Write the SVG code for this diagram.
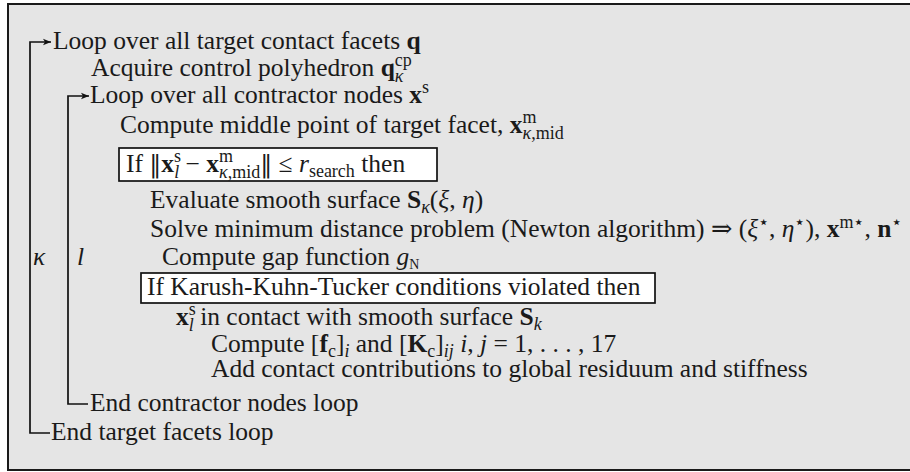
<svg xmlns="http://www.w3.org/2000/svg" width="910" height="472" viewBox="0 0 910 472">
<style>
.t{font-family:"Liberation Serif","DejaVu Serif",serif;font-size:25.5px;fill:#1a1a1a}
.b{font-weight:bold}
.i{font-style:italic}
.s{font-size:18px}
.ss{font-size:14px}
.nm{font-family:"DejaVu Serif",serif;font-size:24px}
.ln{fill:none;stroke:#111;stroke-width:1.7}
.box{fill:#fff;stroke:#111;stroke-width:1.7}
</style>
<defs>
<marker id="ah" markerUnits="userSpaceOnUse" markerWidth="10" markerHeight="8" refX="8" refY="4" orient="auto">
<path d="M0,0.8 L8,4 L0,7.2 L2,4 Z" fill="#111"/>
</marker>
</defs>
<rect x="8" y="4" width="920" height="466" fill="#e5e5e5" stroke="#1a1a1a" stroke-width="2"/>
<g id="connectors">
<path class="ln" d="M50,433 H30 V42 H51" marker-end="url(#ah)"/>
<path class="ln" d="M88,404 H68 V96 H89" marker-end="url(#ah)"/>
</g>
<g id="loop-facets"><text class="t" x="53" y="49">Loop over all target contact facets <tspan class="b">q</tspan></text></g>
<g id="acquire"><text class="t" x="91" y="76">Acquire control polyhedron <tspan class="b">q</tspan><tspan class="s" dy="-10">cp</tspan><tspan class="s i" dx="-17" dy="16">κ</tspan></text></g>
<g id="loop-nodes"><text class="t" x="90" y="103">Loop over all contractor nodes <tspan class="b">x</tspan><tspan class="s" dy="-10">s</tspan></text></g>
<g id="middle"><text class="t" x="120" y="133">Compute middle point of target facet, <tspan class="b">x</tspan><tspan class="s" dy="-10">m</tspan><tspan class="s" dx="-14" dy="16"><tspan class="i">κ</tspan>,mid</tspan></text></g>
<g id="if-search">
<rect class="box" x="119" y="148" width="318" height="33"/>
<text class="t" x="126" y="172">If <tspan class="nm">‖</tspan><tspan class="b">x</tspan><tspan class="s" dy="-10">s</tspan><tspan class="s i" dx="-7" dy="16">l</tspan><tspan dy="-6"> − </tspan><tspan class="b">x</tspan><tspan class="s" dy="-10">m</tspan><tspan class="s" dx="-14" dy="16"><tspan class="i">κ</tspan>,mid</tspan><tspan class="nm" dy="-6">‖</tspan> ≤ <tspan class="i">r</tspan><tspan class="s" dy="5">search</tspan><tspan dy="-5"> then</tspan></text>
</g>
<g id="evaluate"><text class="t" x="150" y="208">Evaluate smooth surface <tspan class="b">S</tspan><tspan class="s i" dy="5">κ</tspan><tspan dy="-5">(</tspan><tspan class="i">ξ</tspan>, <tspan class="i">η</tspan>)</text></g>
<g id="solve"><text class="t" x="150" y="237">Solve minimum distance problem (Newton algorithm) ⇒ (<tspan class="i">ξ</tspan><tspan class="s" dy="-9">⋆</tspan><tspan dy="9">, </tspan><tspan class="i">η</tspan><tspan class="s" dy="-9">⋆</tspan><tspan dy="9">), </tspan><tspan class="b">x</tspan><tspan class="s" dy="-9">m⋆</tspan><tspan dy="9">, </tspan><tspan class="b">n</tspan><tspan class="s" dy="-9">⋆</tspan></text></g>
<g id="gap">
<text class="t i" x="33" y="265">κ</text>
<text class="t i" x="77" y="265">l</text>
<text class="t" x="162" y="265">Compute gap function <tspan class="i">g</tspan><tspan class="ss" dy="4">N</tspan></text>
</g>
<g id="if-kkt">
<rect class="box" x="141" y="273" width="514" height="30"/>
<text class="t" x="147" y="295">If Karush-Kuhn-Tucker conditions violated then</text>
</g>
<g id="in-contact"><text class="t" x="176" y="325"><tspan class="b">x</tspan><tspan class="s" dy="-10">s</tspan><tspan class="s i" dx="-7" dy="16">l</tspan><tspan dy="-6"> in contact with smooth surface </tspan><tspan class="b">S</tspan><tspan class="s i" dy="5">k</tspan></text></g>
<g id="compute-fk"><text class="t" x="211" y="352">Compute [<tspan class="b">f</tspan><tspan class="s" dy="5">c</tspan><tspan dy="-5">]</tspan><tspan class="s i" dy="5">i</tspan><tspan dy="-5"> and [</tspan><tspan class="b">K</tspan><tspan class="s" dy="5">c</tspan><tspan dy="-5">]</tspan><tspan class="s i" dy="5">ij</tspan><tspan dy="-5"> </tspan><tspan class="i">i</tspan>, <tspan class="i">j</tspan> = 1, . . . , 17</text></g>
<g id="add"><text class="t" x="211" y="377">Add contact contributions to global residuum and stiffness</text></g>
<g id="end-nodes"><text class="t" x="90" y="411">End contractor nodes loop</text></g>
<g id="end-facets"><text class="t" x="51" y="440">End target facets loop</text></g>
</svg>
